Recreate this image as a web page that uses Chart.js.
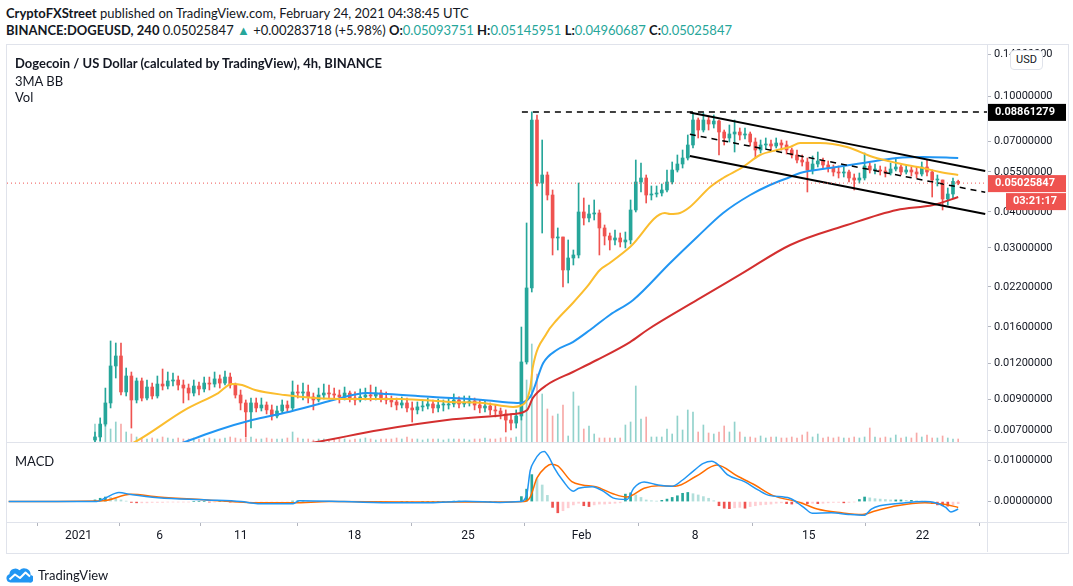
<!DOCTYPE html>
<html>
<head>
<meta charset="utf-8">
<script src="https://cdn.jsdelivr.net/npm/chart.js@4.4.1/dist/chart.umd.min.js"></script>
<style>
  body { margin: 0; background: #fff; color: #131722; }
  #page { position: relative; width: 1073px; height: 586px; overflow: hidden; font-family: Lato, sans-serif; }
  .txt { position: absolute; white-space: nowrap; line-height: 16px; }
  .hdr { left: 6px; font-size: 13px; }
  .leg { left: 15px; font-size: 13px; }
  .up { color: #26a69a; }
  .sep { position: absolute; background: #e0e3eb; }
  #frame { position: absolute; left: 6px; top: 44px; width: 1061px; height: 508px; border: 1px solid #e0e3eb; }
  canvas { position: absolute; }
  #usd { position: absolute; left: 1010px; top: 50px; width: 31px; height: 18px; border: 1px solid #e0e3eb; border-radius: 4px;
         background: #fff; font: 11px Roboto, sans-serif; text-align: center; line-height: 18px; }
  #logo { position: absolute; left: 6px; top: 563px; }
</style>
</head>
<body>
<div id="page">
  <div class="txt hdr" style="top:5px"><b>CryptoFXStreet</b> published on TradingView.com, February 24, 2021 04:38:45 UTC</div>
  <div class="txt hdr" style="top:22px"><b>BINANCE:DOGEUSD, 240</b> 0.05025847 <span class="up">&#9650;</span> +0.00283718 (+5.98%) <b>O:</b><span class="up">0.05093751</span> <b>H:</b><span class="up">0.05145951</span> <b>L:</b><span class="up">0.04960687</span> <b>C:</b><span class="up">0.05025847</span></div>
  <div id="frame"></div>
  <canvas id="main" width="1060" height="397" style="left:7px;top:45px"></canvas>
  <canvas id="macd" width="1060" height="109" style="left:7px;top:443px"></canvas>
  <div class="sep" style="left:7px;top:442px;width:1060px;height:1px"></div>
  <div class="sep" style="left:7px;top:522px;width:1060px;height:1px"></div>
  <div class="sep" style="left:987px;top:45px;width:1px;height:507px"></div>
  <div class="txt leg" style="top:55px;font-weight:700">Dogecoin / US Dollar (calculated by TradingView), 4h, BINANCE</div>
  <div class="txt leg" style="top:73px">3MA BB</div>
  <div class="txt leg" style="top:89px">Vol</div>
  <div class="txt leg" style="top:453px">MACD</div>
  <div id="usd">USD</div>
  <div id="logo">
    <svg width="27" height="17" viewBox="0 0 27 17" style="vertical-align:middle">
      <path d="M4.5 16.5 A4.2 4.2 0 0 1 3.4 8.3 A6 6 0 0 1 13.5 4.2 A6.5 6.5 0 0 1 24.6 9 A3.8 3.8 0 0 1 23 16.5 Z" fill="#2196f3"/>
      <polyline points="3.5,13.5 9,8.5 14,12 19.5,6.5 24,10.5" stroke="#fff" stroke-width="2" fill="none" stroke-linejoin="round"/>
    </svg>
    <span style="font-size:13px;vertical-align:middle;margin-left:1px">TradingView</span>
  </div>
</div>
<script>
// DOGE/USD, one candle per bar index; open of each bar is the previous close
const firstOpen = 0.00650;
const closes = [
  0.00666,0.00738,0.00873,0.01172,0.01269,0.00953,0.01082,0.00894,0.01040,0.00908,
  0.00991,0.00923,0.01015,0.00999,0.01040,0.01048,0.01007,0.00983,0.00945,0.00999,
  0.00976,0.01023,0.01015,0.01057,0.01023,0.01073,0.01007,0.00930,0.00873,0.00813,
  0.00873,0.00839,0.00859,0.00826,0.00787,0.00819,0.00859,0.00839,0.00953,0.00945,
  0.00953,0.00916,0.00894,0.00930,0.00945,0.00938,0.00930,0.00916,0.00945,0.00908,
  0.00894,0.00916,0.00930,0.00923,0.00945,0.00908,0.00894,0.00880,0.00859,0.00873,
  0.00839,0.00826,0.00846,0.00852,0.00866,0.00839,0.00859,0.00859,0.00866,0.00894,
  0.00866,0.00873,0.00887,0.00859,0.00839,0.00852,0.00826,0.00819,0.00800,0.00762,
  0.00744,0.00787,0.01210,0.02181,0.08307,0.05030,0.05361,0.04572,0.03247,0.03273,
  0.02517,0.02769,0.02836,0.03994,0.03808,0.03931,0.03962,0.03516,0.03299,0.03196,
  0.03247,0.03146,0.03196,0.04058,0.05071,0.05235,0.04572,0.04609,0.04646,0.04758,
  0.05071,0.05579,0.05852,0.06138,0.06808,0.08307,0.07671,0.08307,0.08047,0.08241,
  0.07550,0.07198,0.07431,0.07550,0.07372,0.07431,0.06972,0.06542,0.06808,0.06862,
  0.06754,0.06917,0.06808,0.06542,0.06287,0.06041,0.05946,0.05579,0.05852,0.05993,
  0.05805,0.05668,0.05491,0.05447,0.05491,0.05235,0.05152,0.05235,0.05759,0.05579,
  0.05579,0.05535,0.05447,0.05623,0.05714,0.05491,0.05579,0.05491,0.05404,0.05714,
  0.05491,0.05152,0.05152,0.04429,0.04609,0.05094,0.05026
];
const highs = [
  0.00693,0.00775,0.00983,0.01430,0.01407,0.01407,0.01153,0.01117,0.01065,0.01065,
  0.01048,0.01023,0.01082,0.01144,0.01117,0.01108,0.01082,0.01048,0.01015,0.01048,
  0.01031,0.01073,0.01073,0.01117,0.01091,0.01126,0.01108,0.01023,0.00968,0.00894,
  0.00908,0.00908,0.00908,0.00880,0.00859,0.00852,0.00894,0.00887,0.01040,0.01007,
  0.01023,0.01007,0.00945,0.00983,0.01015,0.01007,0.00983,0.00968,0.00991,0.00960,
  0.00953,0.00976,0.00983,0.01007,0.00991,0.00968,0.00953,0.00923,0.00908,0.00916,
  0.00908,0.00880,0.00880,0.00894,0.00908,0.00894,0.00901,0.00894,0.00908,0.00938,
  0.00916,0.00923,0.00923,0.00908,0.00894,0.00887,0.00873,0.00859,0.00839,0.00826,
  0.00800,0.00826,0.01598,0.03659,0.08861,0.08644,0.07084,0.05491,0.04758,0.03516,
  0.03273,0.03196,0.02951,0.05030,0.04464,0.04223,0.04394,0.04058,0.03601,0.03378,
  0.03460,0.03378,0.03405,0.04394,0.06041,0.05898,0.05361,0.04912,0.04912,0.04991,
  0.05579,0.05946,0.06287,0.06542,0.07372,0.08800,0.08440,0.08783,0.08575,0.08644,
  0.08307,0.07671,0.07983,0.08307,0.07794,0.07794,0.07550,0.07198,0.07084,0.07198,
  0.07084,0.07198,0.07084,0.07028,0.06647,0.06542,0.06287,0.06138,0.06237,0.06439,
  0.06138,0.05993,0.05805,0.05759,0.05714,0.05579,0.05404,0.05447,0.06388,0.05898,
  0.05852,0.05759,0.05714,0.05898,0.06138,0.05805,0.05805,0.05714,0.05714,0.05946,
  0.06041,0.05579,0.05361,0.05152,0.04834,0.05235,0.05146
];
const lows = [
  0.00635,0.00645,0.00726,0.00839,0.01065,0.00930,0.00923,0.00715,0.00873,0.00887,
  0.00894,0.00901,0.00908,0.00968,0.00976,0.00999,0.00968,0.00873,0.00894,0.00923,
  0.00930,0.00953,0.00968,0.00991,0.00983,0.01007,0.00983,0.00908,0.00826,0.00666,
  0.00715,0.00813,0.00819,0.00800,0.00762,0.00775,0.00807,0.00813,0.00826,0.00908,
  0.00894,0.00873,0.00826,0.00880,0.00901,0.00908,0.00901,0.00873,0.00894,0.00880,
  0.00859,0.00880,0.00894,0.00887,0.00894,0.00880,0.00866,0.00846,0.00826,0.00839,
  0.00813,0.00750,0.00800,0.00819,0.00832,0.00807,0.00813,0.00819,0.00832,0.00846,
  0.00839,0.00846,0.00852,0.00826,0.00807,0.00813,0.00794,0.00781,0.00769,0.00693,
  0.00704,0.00715,0.00762,0.01190,0.02112,0.04912,0.03378,0.04394,0.02836,0.02951,
  0.02198,0.02269,0.02619,0.02769,0.03601,0.03688,0.03747,0.02836,0.03071,0.02951,
  0.03071,0.03023,0.02999,0.03096,0.03994,0.04683,0.04290,0.04394,0.04500,0.04536,
  0.04683,0.04991,0.05491,0.05668,0.06041,0.06647,0.07198,0.07550,0.07671,0.07794,
  0.06287,0.06808,0.06972,0.06439,0.07084,0.07141,0.06754,0.06138,0.06388,0.06594,
  0.06542,0.06647,0.06542,0.06337,0.06138,0.05898,0.05759,0.04683,0.05404,0.05714,
  0.05668,0.05491,0.05319,0.05235,0.05277,0.05071,0.04758,0.05030,0.05152,0.05447,
  0.05404,0.05361,0.05277,0.05361,0.05535,0.05361,0.05404,0.05319,0.05235,0.05319,
  0.05319,0.04500,0.04912,0.04058,0.04223,0.04464,0.04961
];
// volume, millions (estimated, no scale shown)
const volumes = [
  180,100,300,130,200,180,100,80,50,40, 30,40,30,50,40,30,40,
  30,30,40,30,30,40,30,30,40,50,40,30,40,50,30,30,40,30,30,30,40,100,
  40,30,30,20,30,30,20,30,30,30,20,30,30,40,30,20,30,30,30,40,30,50,30,30,20,30,30,30,20,30,
  30,30,30,20,30,30,40,30,30,40,50,40,50,
  450,620,980,680,480,330,260,280,370,60, 500,360,130,160,80,40,40,40,40,40,
  170,200,560,230,250,50,50,50,130,80, 260,120,320,300,100,170,90,80,100,160,
  100,200,100,50,50,40,60,40,50,50, 40,40,50,40,70,100,50,80,40,50,
  40,50,40,40,50,40,50,140,50,40, 50,40,70,40,50,40,90,50,70,40, 40,60,40,30,30
];
// moving averages [bar, price]
const maFast = [[5,0.0061],[7.7,0.0064],[17.3,0.00826],[23.7,0.00945],[26.3,0.01015],[28.3,0.01007],[30.8,0.00968],
  [36.5,0.00930],[42.3,0.00908],[49,0.00901],[58.7,0.00901],[68.3,0.00880],[74.6,0.00873],[80.4,0.00846],[81.7,0.00852],
  [83.7,0.00983],[84.2,0.01162],[86.9,0.01524],[88.8,0.01690],[91.9,0.01935],[94.6,0.02198],[97.1,0.02517],[99,0.02661],
  [102.9,0.03023],[109.6,0.03962],[110.6,0.03931],[112.5,0.03962],[114.4,0.04156],[118.3,0.04873],[120.8,0.05235],
  [124.6,0.05714],[127.9,0.06287],[131.2,0.06542],[133.7,0.06700],[135.6,0.06917],[139.4,0.06917],[144.6,0.06700],
  [149.6,0.06187],[154.2,0.05898],[159.2,0.05668],[162.5,0.05491],[166,0.05361]];
const maMid = [[15,0.0062],[17.3,0.00640],[23.7,0.00704],[30.2,0.00762],[36.5,0.00807],[42.3,0.00859],[45.8,0.00894],
  [52.3,0.00945],[56.2,0.00938],[65,0.00916],[74.6,0.00894],[81.2,0.00873],[83.7,0.00916],[86.2,0.01200],[88.8,0.01331],
  [91.9,0.01418],[95.2,0.01561],[99,0.01759],[103.5,0.01982],[110.6,0.02661],[115.8,0.03273],[120.8,0.03962],[126,0.04572],
  [129.8,0.04951],[133.7,0.05277],[135.6,0.05447],[141.3,0.05668],[147.7,0.05898],[154.2,0.06138],[159.2,0.06187],[166,0.06138]];
const maSlow = [[38,0.0062],[42.7,0.00640],[54.8,0.00704],[67.7,0.00762],[80.4,0.00800],[83.1,0.00826],[84.2,0.00908],
  [86.9,0.01007],[91.9,0.01117],[96.5,0.01229],[102.9,0.01418],[106.2,0.01561],[115.8,0.01982],[124.6,0.02458],
  [133.7,0.03071],[144.6,0.03601],[154.2,0.04058],[161.2,0.04223],[166,0.04500]];
// MACD [bar, value]
const macdLine = [[-16.6,0],[0.3,0],[1.9,0.0008],[4.6,0.0022],[6.9,0.0017],[12.2,0.0009],[21.5,0.0004],[28.1,0],
  [31.3,-0.0005],[38.1,-0.0005],[39.3,0.0002],[47.9,0],[57.9,-0.0003],[64.4,-0.0003],[71.2,0.0001],[77.9,-0.0002],
  [81.8,0],[83,0.0015],[83.7,0.0075],[84.5,0.0098],[85.6,0.0117],[86.4,0.0121],[87.3,0.0107],[88.3,0.0082],[90,0.0050],
  [92,0.0025],[93,0.0032],[95.6,0.0036],[98,0.0023],[99.6,0.0009],[102.3,0.0005],[103.6,0.0032],[105.6,0.0047],
  [108.3,0.0040],[111,0.0037],[113,0.0052],[115,0.0073],[117,0.0092],[118.6,0.0097],[119.9,0.0088],[121.6,0.0065],
  [124.9,0.0048],[127.6,0.00275],[129.6,0.0015],[133.6,0.0008],[136.3,-0.0014],[137.9,-0.0028],[141.6,-0.0027],
  [144.9,-0.0031],[147.9,-0.0033],[149.3,-0.0018],[150.9,-0.0010],[154.9,-0.0004],[159.6,0],[161.6,-0.0003],
  [163.6,-0.0014],[164.6,-0.0025],[166,-0.0018]];
const signalLine = [[-16.6,0],[1.6,0.0002],[6.9,0.00175],[12.2,0.0011],[21.5,0.0004],[31.3,-0.0003],[38.1,-0.0003],
  [45,0],[60,-0.0001],[78,-0.0001],[82.5,0],[83.7,0.0011],[85,0.0057],[86.7,0.0083],[87.7,0.0090],[89,0.0086],
  [91.7,0.0048],[93.7,0.0040],[96.3,0.0036],[99.6,0.0019],[102.3,0.0011],[105.6,0.0032],[108.3,0.0038],[111.6,0.0037],
  [115.6,0.0061],[119.6,0.0088],[123.6,0.0061],[126.9,0.0040],[130.3,0.0015],[135.6,-0.0002],[138.9,-0.0018],
  [143.6,-0.0027],[147.6,-0.0031],[150.2,-0.0022],[154.2,-0.0010],[159.6,-0.0003],[163.6,-0.0007],[166,-0.0014]];
const macdHist = [
  0.0004,0.0008,0.0011,0.0010,0.0007,0.0004,0.0001,-0.0002,-0.0003,-0.0003,
  -0.0003,-0.0002,-0.0002,-0.0002,-0.0001,-0.0001,-0.0001,-0.0001,-0.0001,0,
  0,0,-0.0001,-0.0001,0,0,-0.0001,-0.0001,-0.0001,-0.0001,
  -0.0001,-0.0001,-0.0001,-0.0001,-0.0001,-0.0001,-0.0001,-0.0001,0.0001,0.0002,
  0.0002,0.0001,0,0,0,0,0,0,0,0,
  0,0,0,0,0,0,-0.0001,-0.0001,-0.0001,0,
  0,-0.0001,-0.0001,0,0,0,0,0,0,0.0001,
  0.0001,0,0,0,0,0,0,-0.0001,-0.0001,-0.0001,
  -0.0001,0,0.0012,0.0030,0.0065,0.0055,0.0040,0.0015,-0.0014,-0.0027,
  -0.0022,-0.0015,-0.0008,-0.0004,-0.0010,-0.0012,-0.0008,-0.0006,-0.0006,-0.0005,
  -0.0004,-0.0003,0.0018,0.0021,0.0016,0.0010,0.0004,0.0002,0.0001,0.0003,
  0.0006,0.0010,0.0014,0.0020,0.0022,0.0019,0.0016,0.0012,0.0008,0.0002,
  -0.0010,-0.0016,-0.0017,-0.0015,-0.0014,-0.0016,-0.0012,-0.0010,-0.0008,-0.0007,
  -0.0006,-0.0004,-0.0003,-0.0005,-0.0006,-0.0005,-0.0004,-0.0005,-0.0004,-0.0005,
  -0.0004,-0.0003,-0.0002,-0.0002,-0.0003,-0.0002,-0.0001,0.0005,0.0011,0.0009,
  0.0007,0.0006,0.0005,0.0004,0.0004,0.0004,0.0003,0.0003,0.0002,0.0001,
  -0.0002,-0.0005,-0.0008,-0.0010,-0.0011,-0.0008,-0.0005
];
const priceTicks = [0.14, 0.10, 0.07, 0.055, 0.04, 0.03, 0.022, 0.016, 0.012, 0.009, 0.007];
const macdTicks = [0.01, 0];
const tickDays = [0, 5, 10, 17, 24, 31, 38, 45, 52];        // days after Jan 1
const tickLabels = ['2021', '6', '11', '18', '25', 'Feb', '8', '15', '22'];
const lastPrice = 0.05025847;
const highLevel = 0.08861279;
const countdown = '03:21:17';
// drawings [bar, price]
const levelLine = [[82.1, highLevel], [172, highLevel]];
const channelUpper = [[114.4, 0.0882], [171.2, 0.05535]];
const channelMid = [[114.4, 0.07413], [171.2, 0.04672]];
const channelLower = [[114.4, 0.06237], [171.2, 0.03931]];

const UP = '#26a69a', DOWN = '#ef5350';
const barsPerDay = 3.121, jan1Bar = -3.17;
const X_MIN = -16.92, X_MAX = 171.54;

Chart.defaults.font.family = 'Roboto';
Chart.defaults.color = '#131722';

const opens = closes.map((c, i) => i ? closes[i - 1] : firstOpen);
const candleColors = closes.map((c, i) => c >= opens[i] ? UP : DOWN);
const volColors = closes.map((c, i) => c >= opens[i] ? 'rgba(38,166,154,0.5)' : 'rgba(239,83,80,0.5)');
const histColors = macdHist.map((v, i) => {
    const p = i ? macdHist[i - 1] : 0;
    if (v >= 0) return v >= p ? '#26a69a' : '#b2dfdb';
    return v < p ? '#ef5350' : '#ffcdd2';
});
const pts = arr => arr.map(([x, y]) => ({ x, y }));

function lineSet(data, color, width, dash, order) {
    return { type: 'line', data: pts(data), borderColor: color, borderWidth: width, borderDash: dash || [],
             pointRadius: 0, cubicInterpolationMode: 'monotone', order };
}

function rightAxis(extra) {
    return Object.assign({
        position: 'right',
        afterFit: s => { s.width = 80; s.paddingTop = 0; s.paddingBottom = 0; },
        ticks: { autoSkip: false, padding: 3, font: { size: 11 }, color: '#131722', callback: v => Number(v).toFixed(8) },
        grid: { drawOnChartArea: false, tickLength: 4, color: '#b2b5be' },
        border: { display: false }
    }, extra);
}

const priceTags = {
    id: 'priceTags',
    afterDraw(chart) {
        const { ctx, chartArea, scales: { y } } = chart;
        const r = chartArea.right;
        ctx.save();
        ctx.font = 'bold 11px Roboto';
        ctx.textBaseline = 'middle';
        function tag(val, bg, text, dx, dy) {
            const py = y.getPixelForValue(val) + dy;
            ctx.fillStyle = bg;
            ctx.fillRect(r + dx, py - 8, 79 - dx, 17);
            ctx.fillStyle = '#fff';
            ctx.fillText(text, r + dx + 7, py + 0.5);
        }
        tag(highLevel, '#000', highLevel.toFixed(8), 1, 0);
        tag(lastPrice, DOWN, lastPrice.toFixed(8), 1, 0);
        tag(lastPrice, DOWN, countdown, 19, 18);
        ctx.restore();
    }
};

new Chart(document.getElementById('main'), {
    type: 'bar',
    data: {
        datasets: [
            lineSet([[X_MIN, lastPrice], [X_MAX, lastPrice]], DOWN, 1, [1, 3], 0),
            lineSet(levelLine, '#000', 1.5, [6, 5], 1),
            lineSet(channelUpper, '#000', 2, null, 1),
            lineSet(channelMid, '#000', 1.5, [6, 5], 1),
            lineSet(channelLower, '#000', 2, null, 1),
            lineSet(maFast, '#fbbd2e', 2, null, 3),
            lineSet(maMid, '#2196f3', 2, null, 3),
            lineSet(maSlow, '#d32f2f', 2, null, 3),
            { data: closes.map((c, i) => ({ x: i, y: [opens[i], c] })), backgroundColor: candleColors,
              barThickness: 3, minBarLength: 1, grouped: false, order: 5 },
            { data: closes.map((c, i) => ({ x: i, y: [lows[i], highs[i]] })), backgroundColor: candleColors,
              barThickness: 1, grouped: false, order: 6 },
            { data: volumes.map((v, i) => ({ x: i, y: v })), yAxisID: 'yv', backgroundColor: volColors,
              barThickness: 1, grouped: false, order: 9 }
        ]
    },
    options: {
        responsive: false, animation: false, devicePixelRatio: 1, events: [],
        layout: { padding: 0 },
        plugins: { legend: { display: false }, tooltip: { enabled: false } },
        scales: {
            x: { type: 'linear', min: X_MIN, max: X_MAX, offset: false, display: false },
            y: rightAxis({ type: 'logarithmic', min: 0.006398, max: 0.15093,
                afterBuildTicks: s => { s.ticks = priceTicks.map(v => ({ value: v })); } }),
            yv: { type: 'linear', display: false, min: 0, max: 3970 }
        }
    },
    plugins: [priceTags]
});

new Chart(document.getElementById('macd'), {
    type: 'bar',
    data: {
        datasets: [
            lineSet(macdLine, '#2196f3', 1.5, null, 1),
            lineSet(signalLine, '#ff6d00', 1.5, null, 2),
            { data: macdHist.map((v, i) => ({ x: i, y: v })), backgroundColor: histColors,
              barThickness: 2, grouped: false, order: 3 }
        ]
    },
    options: {
        responsive: false, animation: false, devicePixelRatio: 1, events: [],
        layout: { padding: 0 },
        plugins: { legend: { display: false }, tooltip: { enabled: false } },
        scales: {
            x: {
                type: 'linear', min: X_MIN, max: X_MAX, offset: false, position: 'bottom',
                afterBuildTicks: s => { s.ticks = tickDays.map(d => ({ value: jan1Bar + d * barsPerDay })); },
                afterFit: s => { s.height = 30; s.paddingLeft = 0; s.paddingRight = 0; },
                ticks: { autoSkip: false, maxRotation: 0, padding: 3, font: { size: 12 }, color: '#131722',
                         callback: (v, i) => tickLabels[i] },
                grid: { drawOnChartArea: false, tickLength: 4, color: '#b2b5be' },
                border: { display: false }
            },
            y: rightAxis({ min: -0.00492, max: 0.01412,
                afterBuildTicks: s => { s.ticks = macdTicks.map(v => ({ value: v })); } })
        }
    }
});
</script>
</body>
</html>
